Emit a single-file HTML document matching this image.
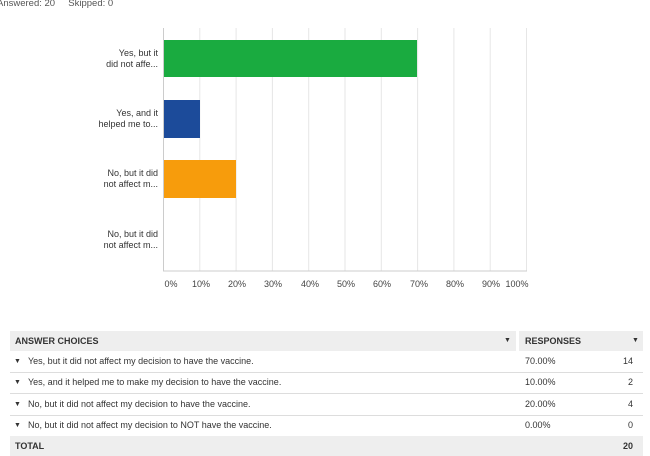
<!DOCTYPE html>
<html><head><style>
body{margin:0;width:650px;height:456px;background:#fff;font-family:"Liberation Sans",sans-serif;color:#333;position:relative;overflow:hidden}
.a{position:absolute}
.lbl{position:absolute;right:492px;text-align:right;font-size:9px;line-height:11px;color:#333}
.tick{position:absolute;top:279px;font-size:9px;color:#444;width:40px;text-align:center}
.row{position:absolute;left:10px;width:633px;height:21px;font-size:9px;line-height:21px;border-bottom:1px solid #ddd}
</style></head><body>
<div class="a" style="left:-3px;top:-2px;font-size:9.5px;color:#555">Answered: 20&nbsp;&nbsp;&nbsp;&nbsp;&nbsp;Skipped: 0</div>
<svg class="a" style="left:0;top:0" width="650" height="300">
<g stroke="#e6e6e6" stroke-width="1">
<line x1="199.8" y1="28" x2="199.8" y2="271"/><line x1="236.1" y1="28" x2="236.1" y2="271"/><line x1="272.4" y1="28" x2="272.4" y2="271"/><line x1="308.7" y1="28" x2="308.7" y2="271"/><line x1="345" y1="28" x2="345" y2="271"/><line x1="381.3" y1="28" x2="381.3" y2="271"/><line x1="417.6" y1="28" x2="417.6" y2="271"/><line x1="453.9" y1="28" x2="453.9" y2="271"/><line x1="490.2" y1="28" x2="490.2" y2="271"/><line x1="526.5" y1="28" x2="526.5" y2="271"/>
</g>
<line x1="163.5" y1="28" x2="163.5" y2="271" stroke="#ccc"/>
<line x1="163" y1="271" x2="527" y2="271" stroke="#ccc"/>
<rect x="164" y="40" width="253" height="37" fill="#1aab40"/>
<rect x="164" y="100" width="36" height="38" fill="#1c4b9a"/>
<rect x="164" y="160" width="72" height="38" fill="#f79c0c"/>
</svg>
<div class="lbl" style="top:48px">Yes, but it<br>did not affe...</div>
<div class="lbl" style="top:108px">Yes, and it<br>helped me to...</div>
<div class="lbl" style="top:168px">No, but it did<br>not affect m...</div>
<div class="lbl" style="top:229px">No, but it did<br>not affect m...</div>
<div class="tick" style="left:151px">0%</div><div class="tick" style="left:181px">10%</div><div class="tick" style="left:217px">20%</div><div class="tick" style="left:253px">30%</div><div class="tick" style="left:290px">40%</div><div class="tick" style="left:326px">50%</div><div class="tick" style="left:362px">60%</div><div class="tick" style="left:399px">70%</div><div class="tick" style="left:435px">80%</div><div class="tick" style="left:471px">90%</div><div class="tick" style="left:497px">100%</div>
<div class="a" style="left:10px;top:331px;width:506px;height:20px;background:#eee"></div>
<div class="a" style="left:519px;top:331px;width:124px;height:20px;background:#eee"></div>
<div class="a" style="left:15px;top:331px;line-height:20px;font-size:9px;font-weight:bold;color:#333">ANSWER CHOICES</div>
<div class="a" style="left:504px;top:331px;line-height:20px;font-size:7px">▼</div>
<div class="a" style="left:525px;top:331px;line-height:20px;font-size:9px;font-weight:bold">RESPONSES</div>
<div class="a" style="left:632px;top:331px;line-height:20px;font-size:7px">▼</div>
<div class="row" style="top:351px"><span style="position:absolute;left:4px;font-size:7px">▼</span><span style="position:absolute;left:18px">Yes, but it did not affect my decision to have the vaccine.</span><span style="position:absolute;left:515px">70.00%</span><span style="position:absolute;right:10px">14</span></div>
<div class="row" style="top:372px"><span style="position:absolute;left:4px;font-size:7px">▼</span><span style="position:absolute;left:18px">Yes, and it helped me to make my decision to have the vaccine.</span><span style="position:absolute;left:515px">10.00%</span><span style="position:absolute;right:10px">2</span></div>
<div class="row" style="top:394px"><span style="position:absolute;left:4px;font-size:7px">▼</span><span style="position:absolute;left:18px">No, but it did not affect my decision to have the vaccine.</span><span style="position:absolute;left:515px">20.00%</span><span style="position:absolute;right:10px">4</span></div>
<div class="row" style="top:415px;border-bottom:none"><span style="position:absolute;left:4px;font-size:7px">▼</span><span style="position:absolute;left:18px">No, but it did not affect my decision to NOT have the vaccine.</span><span style="position:absolute;left:515px">0.00%</span><span style="position:absolute;right:10px">0</span></div>
<div class="a" style="left:10px;top:436px;width:633px;height:20px;background:#eee;font-size:9px;line-height:20px;font-weight:bold"><span style="position:absolute;left:5px">TOTAL</span><span style="position:absolute;right:10px">20</span></div>
</body></html>
